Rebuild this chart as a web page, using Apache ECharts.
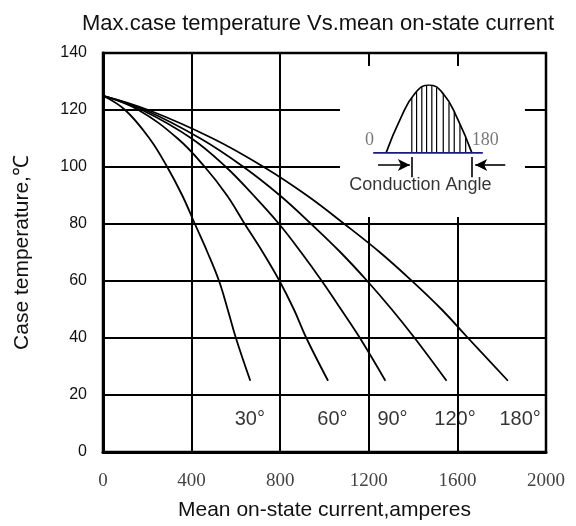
<!DOCTYPE html>
<html>
<head>
<meta charset="utf-8">
<script src="https://cdn.jsdelivr.net/npm/echarts@6/dist/echarts.min.js"></script>
<style>html,body{margin:0;padding:0;background:#fff}#c{width:576px;height:526px}</style>
</head>
<body>
<div id="c"></div>
<script>
// ---- data ----
const titleText = 'Max.case temperature Vs.mean on-state current';
const xName = 'Mean on-state current,amperes';
const yName = 'Case temperature,\u2103';
const xTickLabels = ['0', '400', '800', '1200', '1600', '2000'];
const yTickLabels = ['0', '20', '40', '60', '80', '100', '120', '140'];
const curveNames = ['30°', '60°', '90°', '120°', '180°'];
const curve30  = [[0,125],[100,120],[210,110],[290,100],[358,90],[415,80],[472,70],[524,60],[563,50],[600,40],[665,25]];
const curve60  = [[0,125],[160,120],[337,110],[460,100],[560,90],[640,80],[722,70],[797,60],[862,50],[918,40],[1016,25]];
const curve90  = [[0,125],[176,120],[400,110],[555,100],[680,90],[795,80],[895,70],[988,60],[1075,50],[1160,40],[1275,25]];
const curve120 = [[0,125],[190,120],[440,110],[635,100],[799,90],[940,80],[1073,70],[1193,60],[1304,50],[1407,40],[1551,25]];
const curve180 = [[0,125],[205,120],[496,110],[726,100],[921,90],[1090,80],[1251,70],[1395,60],[1529,50],[1648,40],[1828,25]];
const curveLabelX = [663, 1036, 1307, 1589, 1883];
const curveLabelY = 11.3;
// inset (conduction angle sketch), angle in degrees vs relative level
const waveAngle = [0, 30, 60, 90, 120, 150, 180];
const waveLevel = [0, 0.5, 0.87, 1, 0.87, 0.5, 0];
const hatchAngle = [54, 64, 75, 85, 96, 106, 120, 132, 143, 155, 167];
const hatchLevel = [0.81, 0.90, 0.97, 1.0, 0.99, 0.96, 0.87, 0.74, 0.60, 0.42, 0.22];
const baseSpan = [-27, 203];
const markerAngles = [54, 180];
const arrowSpans = [[-17, 50], [250, 187]];
const insetBox = [[1070, 135.4], [1905, 82.5]];
const insetCaption = 'Conduction Angle';
const insetCaptionAt = [1433, 93.7];
const angleLabels = ['0', '180'];
const angleLabelAt = [[-35, 0.19], [208, 0.19]];

const curves = [curve30, curve60, curve90, curve120, curve180];
const SANS = 'Liberation Sans, Arial, sans-serif';
const SERIF = 'Liberation Serif, Times New Roman, serif';

const chart = echarts.init(document.getElementById('c'), null, {renderer: 'canvas'});

const series = curves.map((d, i) => ({
  name: curveNames[i], type: 'line', xAxisIndex: 0, yAxisIndex: 0,
  data: d, smooth: 0.4, symbol: 'none', z: 3,
  lineStyle: {color: '#000', width: 1.8}
}));

series.push({
  name: 'labels', type: 'scatter', xAxisIndex: 0, yAxisIndex: 0, symbolSize: 0, z: 4,
  data: curveNames.map((n, i) => ({name: n, value: [curveLabelX[i], curveLabelY]}))
    .concat([{name: insetCaption, value: insetCaptionAt, label: {fontSize: 18}}]),
  label: {show: true, position: 'inside', formatter: p => p.name, color: '#000', fontSize: 20, fontFamily: SANS},
  markArea: {silent: true, itemStyle: {color: '#fff'}, data: [[{coord: insetBox[0]}, {coord: insetBox[1]}]]}
});

series.push({
  name: 'wave', type: 'line', xAxisIndex: 1, yAxisIndex: 1, z: 6,
  data: waveAngle.map((a, i) => [a, waveLevel[i]]), smooth: 0.5, symbol: 'none',
  lineStyle: {color: '#000', width: 1.7}
});
series.push({
  name: 'hatch', type: 'bar', xAxisIndex: 1, yAxisIndex: 1, z: 6, barWidth: 1.2,
  data: hatchAngle.map((a, i) => [a, hatchLevel[i]]), itemStyle: {color: '#000'}
});
series.push({
  name: 'base', type: 'line', xAxisIndex: 1, yAxisIndex: 1, z: 6, symbol: 'none',
  data: [[baseSpan[0], 0], [baseSpan[1], 0]], lineStyle: {color: '#1a1a80', width: 1.6},
  markLine: {silent: true, symbol: 'none', label: {show: false}, lineStyle: {color: '#000', width: 1.6, type: 'solid'},
    data: markerAngles.map(a => [{coord: [a, -0.06]}, {coord: [a, -0.36]}])}
});
series.push({
  name: 'arrows', type: 'scatter', xAxisIndex: 1, yAxisIndex: 1, z: 6, symbolSize: 0, clip: false,
  data: angleLabels.map((t, i) => ({name: t, value: angleLabelAt[i]})),
  label: {show: true, position: 'inside', formatter: p => p.name, color: '#555', fontSize: 18, fontFamily: SERIF},
  markLine: {silent: true, symbol: ['none', 'arrow'], symbolSize: [9, 12], label: {show: false},
    lineStyle: {color: '#000', width: 1.6, type: 'solid'},
    data: arrowSpans.map(s => [{coord: [s[0], -0.18]}, {coord: [s[1], -0.18]}])}
});

chart.setOption({
  animation: false,
  backgroundColor: '#fff',
  title: {text: titleText, left: 313, top: 8, textAlign: 'center',
    textStyle: {fontSize: 22, fontWeight: 'normal', color: '#111', fontFamily: SANS}},
  grid: [
    {left: 103, top: 53, width: 443, height: 399, show: true, borderColor: '#000', borderWidth: 2.5, backgroundColor: 'transparent'},
    {left: 367, top: 85, width: 143, height: 95, show: false}
  ],
  xAxis: [
    {gridIndex: 0, type: 'value', min: 0, max: 2000, interval: 400,
      name: xName, nameLocation: 'middle', nameGap: 48,
      nameTextStyle: {fontSize: 21, color: '#111', fontFamily: SANS},
      axisLine: {show: true, onZero: false, lineStyle: {color: '#000', width: 3}},
      axisTick: {show: false},
      axisLabel: {margin: 20, fontFamily: SERIF, fontSize: 19, color: '#444',
        formatter: (v) => xTickLabels[Math.round(v / 400)]},
      splitLine: {show: true, lineStyle: {color: '#000', width: 2}}},
    {gridIndex: 1, type: 'value', min: -40, max: 260, show: false, splitLine: {show: false}}
  ],
  yAxis: [
    {gridIndex: 0, type: 'value', min: 0, max: 140, interval: 20,
      name: yName, nameLocation: 'middle', nameGap: 70,
      nameTextStyle: {fontSize: 21, color: '#111', fontFamily: SANS},
      axisLine: {show: true, onZero: false, lineStyle: {color: '#000', width: 3}},
      axisTick: {show: false},
      axisLabel: {margin: 16, fontFamily: SANS, fontSize: 16, color: '#111',
        formatter: (v) => yTickLabels[Math.round(v / 20)]},
      splitLine: {show: true, lineStyle: {color: '#000', width: 2}}},
    {gridIndex: 1, type: 'value', min: -0.4, max: 1, show: false, splitLine: {show: false}}
  ],
  series: series
});
</script>
</body>
</html>
